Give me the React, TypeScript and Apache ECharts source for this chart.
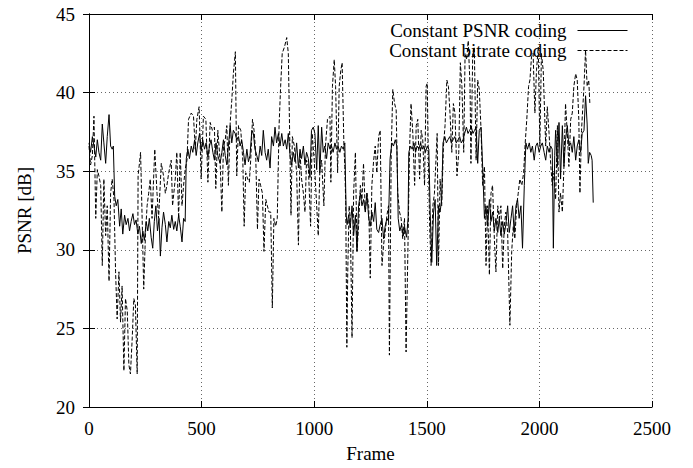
import React, { useEffect, useRef } from "react";
import * as echarts from "echarts";

const seriesNames = ["Constant PSNR coding", "Constant bitrate coding"];

const psnrFrames = [
  0, 7, 15, 22, 30, 37, 44, 52, 59, 66, 74, 81, 89, 96, 103, 108, 114, 121, 128, 136,
  143, 150, 158, 165, 173, 180, 187, 195, 202, 209, 217, 224, 232, 239, 246, 254, 261, 268, 276, 283,
  290, 297, 304, 311, 317, 324, 331, 339, 346, 354, 361, 368, 376, 383, 390, 398, 405, 413, 420, 427,
  432, 439, 446, 454, 461, 469, 476, 483, 491, 498, 505, 513, 520, 528, 535, 542, 550, 557, 564, 572,
  582, 590, 597, 605, 612, 619, 627, 634, 641, 649, 656, 664, 671, 678, 686, 693, 701, 708, 715, 723,
  730, 737, 745, 752, 760, 767, 774, 782, 789, 796, 804, 811, 819, 826, 833, 841, 848, 856, 863, 871,
  878, 885, 893, 900, 907, 915, 922, 930, 937, 944, 952, 959, 966, 974, 981, 988, 996, 1003, 1011, 1018,
  1025, 1033, 1040, 1047, 1055, 1062, 1070, 1077, 1084, 1092, 1099, 1106, 1114, 1121, 1129, 1136, 1142, 1146, 1153, 1160,
  1168, 1175, 1183, 1190, 1197, 1205, 1212, 1219, 1227, 1234, 1242, 1249, 1256, 1264, 1271, 1278, 1286, 1293, 1301, 1308,
  1315, 1323, 1330, 1337, 1345, 1352, 1360, 1367, 1373, 1380, 1388, 1395, 1402, 1410, 1417, 1420, 1428, 1435, 1443, 1450,
  1457, 1465, 1472, 1479, 1487, 1494, 1502, 1509, 1515, 1522, 1530, 1537, 1544, 1552, 1559, 1566, 1572, 1580, 1587, 1594,
  1602, 1609, 1617, 1624, 1631, 1639, 1646, 1653, 1661, 1668, 1676, 1683, 1690, 1698, 1705, 1712, 1719, 1726, 1733, 1741,
  1748, 1756, 1763, 1770, 1778, 1785, 1792, 1800, 1807, 1815, 1822, 1829, 1837, 1844, 1851, 1859, 1866, 1874, 1881, 1888,
  1896, 1903, 1910, 1918, 1925, 1933, 1940, 1947, 1955, 1962, 1969, 1977, 1984, 1991, 1999, 2006, 2013, 2021, 2028, 2035,
  2043, 2050, 2057, 2062, 2068, 2072, 2080, 2087, 2094, 2102, 2109, 2116, 2124, 2131, 2139, 2146, 2153, 2161, 2168, 2175,
  2183, 2190, 2198, 2205, 2212, 2217, 2223, 2230, 2234, 2239,
];
const psnrValues = [
  36.8, 36.2, 37.2, 36.6, 35.9, 37.0, 36.2, 35.7, 38.0, 36.8, 35.5, 37.2, 38.6, 36.6, 36.4, 36.6, 33.4, 32.8, 33.2, 31.5,
  32.6, 31.0, 32.2, 31.6, 32.0, 31.2, 31.8, 32.3, 31.6, 31.9, 31.0, 31.5, 30.4, 31.2, 30.6, 31.8, 31.2, 32.0, 30.8, 30.1,
  31.8, 32.8, 31.2, 32.0, 29.6, 31.4, 32.4, 31.6, 30.5, 31.8, 31.4, 32.2, 31.3, 31.8, 31.2, 32.2, 31.5, 30.5, 32.0, 31.8,
  35.8, 36.4, 35.8, 36.6, 36.2, 37.0, 36.0, 36.8, 37.4, 36.3, 37.0, 36.4, 36.8, 35.9, 36.6, 37.0, 36.2, 35.7, 36.8, 36.0,
  35.5, 36.2, 37.0, 36.0, 35.4, 36.6, 37.9, 36.8, 37.6, 37.4, 37.0, 37.2, 36.6, 37.0, 36.2, 35.4, 36.4, 35.6, 36.0, 37.6,
  37.4, 36.4, 36.0, 35.6, 36.6, 36.0, 37.6, 36.2, 35.7, 36.4, 35.2, 37.2, 36.6, 37.8, 36.8, 37.4, 36.6, 37.4, 36.6, 37.0,
  36.4, 37.4, 36.0, 35.4, 36.2, 35.6, 36.8, 35.2, 36.4, 35.8, 36.6, 35.4, 36.2, 35.8, 34.6, 37.6, 37.8, 37.4, 35.1, 37.9,
  34.9, 37.8, 36.2, 36.6, 35.8, 36.8, 36.4, 36.6, 36.2, 36.8, 36.4, 36.6, 36.2, 36.6, 36.4, 36.8, 32.2, 31.6, 32.2, 31.4,
  32.8, 30.9, 32.2, 29.9, 32.8, 33.6, 32.8, 33.2, 32.4, 33.6, 32.0, 31.5, 32.4, 31.8, 33.0, 31.3, 31.1, 31.6, 32.0, 30.7,
  31.5, 32.0, 31.8, 35.8, 36.8, 36.6, 37.0, 36.6, 32.0, 31.2, 31.6, 30.9, 31.4, 30.8, 32.0, 36.2, 36.6, 36.4, 36.8, 36.2,
  36.6, 36.4, 36.8, 36.4, 36.6, 36.2, 36.6, 36.4, 32.4, 29.2, 32.4, 33.2, 29.0, 32.8, 32.4, 33.2, 36.8, 37.2, 36.8, 37.0,
  37.2, 36.8, 37.0, 37.2, 36.8, 37.0, 37.2, 36.8, 37.0, 37.4, 37.8, 37.4, 37.6, 37.8, 37.4, 37.6, 37.8, 35.5, 37.6, 37.8,
  35.3, 32.0, 32.8, 31.5, 33.2, 31.8, 32.4, 31.2, 32.0, 31.1, 32.0, 30.9, 31.8, 31.0, 31.6, 32.8, 31.1, 32.0, 32.8, 31.1,
  32.8, 33.2, 32.0, 32.8, 30.1, 34.1, 36.8, 36.4, 36.8, 36.2, 36.6, 35.7, 36.6, 36.8, 36.2, 36.6, 36.8, 36.2, 35.7, 36.6,
  36.2, 36.6, 36.4, 30.1, 36.0, 37.6, 35.3, 38.1, 34.5, 37.9, 35.3, 37.0, 37.9, 36.6, 36.8, 36.2, 37.2, 35.7, 36.6, 37.0,
  36.2, 37.4, 37.6, 39.8, 38.0, 35.5, 36.2, 36.0, 35.7, 33.0,
];

const bitrateFrames = [
  0, 7, 15, 22, 30, 37, 44, 52, 59, 66, 74, 81, 89, 96, 103, 111, 118, 125, 133, 140,
  147, 155, 162, 170, 177, 184, 192, 199, 206, 214, 218, 224, 229, 236, 243, 251, 258, 265, 272, 280,
  292, 302, 309, 321, 331, 339, 346, 354, 365, 371, 383, 390, 398, 405, 413, 420, 427, 435, 442, 454,
  464, 472, 479, 489, 498, 508, 519, 528, 538, 548, 557, 563, 572, 582, 590, 597, 605, 612, 619, 627,
  634, 641, 650, 656, 664, 674, 683, 689, 696, 705, 712, 718, 726, 733, 740, 748, 755, 762, 770, 777,
  785, 792, 799, 807, 814, 821, 829, 836, 844, 851, 858, 868, 878, 885, 893, 897, 903, 912, 922, 930,
  937, 944, 952, 959, 966, 974, 984, 991, 1000, 1011, 1018, 1025, 1033, 1043, 1050, 1059, 1070, 1074, 1081, 1089,
  1095, 1104, 1111, 1118, 1124, 1132, 1136, 1140, 1145, 1149, 1155, 1160, 1168, 1175, 1183, 1190, 1197, 1205, 1212, 1219,
  1227, 1234, 1242, 1249, 1256, 1264, 1271, 1278, 1286, 1293, 1301, 1308, 1315, 1323, 1330, 1334, 1342, 1349, 1357, 1364,
  1371, 1379, 1386, 1393, 1401, 1408, 1416, 1423, 1430, 1438, 1446, 1453, 1460, 1468, 1475, 1482, 1490, 1497, 1502, 1507,
  1513, 1519, 1527, 1534, 1546, 1552, 1559, 1566, 1574, 1581, 1589, 1596, 1603, 1611, 1618, 1625, 1634, 1642, 1649, 1656,
  1664, 1670, 1677, 1684, 1692, 1696, 1704, 1711, 1719, 1726, 1733, 1741, 1748, 1756, 1763, 1770, 1778, 1785, 1792, 1800,
  1807, 1815, 1822, 1829, 1837, 1844, 1851, 1859, 1869, 1877, 1884, 1891, 1899, 1906, 1913, 1922, 1930, 1937, 1944, 1952,
  1958, 1965, 1972, 1980, 1987, 1995, 2002, 2009, 2017, 2028, 2035, 2043, 2050, 2057, 2065, 2072, 2080, 2087, 2094, 2102,
  2109, 2116, 2124, 2131, 2139, 2146, 2153, 2161, 2168, 2175, 2180, 2187, 2198, 2205, 2212, 2219, 2224,
];
const bitrateValues = [
  36.6, 35.4, 36.0, 38.5, 32.0, 35.1, 34.7, 34.1, 29.0, 34.5, 30.9, 32.8, 28.0, 33.6, 34.5, 33.2, 28.6, 25.6, 28.6, 25.4,
  27.7, 22.3, 26.9, 26.1, 22.7, 22.1, 24.4, 26.9, 26.5, 22.1, 34.7, 35.5, 36.2, 32.0, 27.5, 31.1, 32.8, 33.6, 34.5, 32.0,
  36.4, 33.6, 32.0, 35.5, 34.7, 33.6, 34.1, 34.9, 35.7, 32.8, 34.5, 36.2, 32.0, 36.2, 32.8, 34.1, 35.1, 35.7, 38.3, 38.7,
  38.5, 36.4, 38.3, 39.1, 34.5, 38.5, 38.3, 34.3, 38.1, 37.6, 37.8, 33.9, 37.6, 35.7, 32.4, 36.6, 37.0, 37.9, 34.1, 38.1,
  39.5, 41.2, 42.6, 34.7, 37.9, 37.6, 35.7, 31.5, 34.9, 34.5, 34.3, 35.7, 38.3, 37.6, 36.2, 31.3, 34.5, 34.1, 33.6, 29.9,
  33.2, 32.8, 32.4, 32.4, 26.3, 32.0, 31.5, 32.0, 37.9, 40.4, 42.5, 42.9, 43.5, 42.5, 35.7, 32.2, 37.2, 36.6, 34.9, 30.3,
  36.2, 34.5, 33.6, 32.4, 35.7, 35.3, 31.5, 37.4, 35.7, 32.8, 30.9, 35.1, 35.7, 32.8, 36.6, 38.3, 38.5, 34.3, 40.4, 42.1,
  40.4, 34.9, 40.4, 41.4, 41.9, 36.6, 35.3, 33.0, 23.8, 28.6, 32.8, 32.0, 24.4, 33.6, 36.2, 29.9, 31.5, 34.1, 33.2, 35.5,
  32.4, 33.6, 32.8, 28.2, 34.1, 35.7, 36.6, 34.9, 37.2, 37.6, 29.0, 30.3, 31.1, 32.2, 32.8, 23.3, 36.2, 40.2, 39.3, 38.9,
  33.6, 32.4, 32.0, 30.7, 32.0, 23.5, 29.9, 36.2, 39.3, 37.4, 34.1, 37.9, 38.3, 34.5, 37.6, 37.0, 34.1, 40.4, 40.6, 35.7,
  31.3, 29.0, 32.8, 33.6, 37.4, 29.0, 34.5, 32.8, 36.6, 37.9, 40.8, 40.4, 38.7, 36.2, 39.3, 38.7, 34.7, 36.2, 41.9, 40.4,
  36.2, 42.5, 42.1, 43.3, 40.4, 35.5, 42.5, 42.9, 35.7, 40.8, 40.2, 37.6, 34.1, 35.3, 29.0, 32.8, 28.4, 33.6, 34.1, 30.7,
  28.6, 32.8, 32.0, 32.8, 28.8, 31.5, 32.4, 31.1, 25.2, 29.9, 31.5, 30.7, 32.8, 33.6, 34.5, 34.1, 34.9, 36.8, 38.3, 40.4,
  40.8, 42.3, 42.5, 38.7, 41.4, 42.9, 36.6, 42.5, 41.4, 36.6, 39.1, 37.4, 35.5, 34.1, 34.9, 33.2, 37.9, 32.4, 33.6, 32.4,
  35.3, 39.3, 37.4, 35.3, 38.3, 38.7, 40.4, 41.2, 40.8, 38.3, 33.6, 37.6, 40.4, 42.7, 40.4, 40.8, 39.3,
];

const FONT = "'Liberation Serif', 'DejaVu Serif', serif";

export default function App() {
  const ref = useRef<HTMLDivElement>(null);

  useEffect(() => {
    if (!ref.current) return;
    const chart = echarts.init(ref.current, null, { renderer: "svg" });

    const baseText = { fontFamily: FONT, fontSize: 19, color: "#000" };
    const axisLine = { show: true, lineStyle: { color: "#000", width: 1 } };
    const tick = { show: true, inside: true, length: 6, lineStyle: { color: "#000", width: 1 } };
    const gridLine = { show: true, lineStyle: { color: "#666", width: 1, type: [1, 3] } };
    const plain = (v: number) => String(v);

    chart.setOption({
      animation: false,
      backgroundColor: "#fff",
      grid: { left: 89, right: 41, top: 14, bottom: 58, containLabel: false },
      legend: {
        data: seriesNames,
        orient: "vertical",
        right: 65,
        top: 21,
        padding: 0,
        align: "right",
        itemWidth: 50,
        itemHeight: 14,
        itemGap: 1,
        itemStyle: { opacity: 0, color: "transparent", borderWidth: 0 },
        lineStyle: { width: 1, color: "#000" },
        textStyle: { ...baseText, lineHeight: 17, padding: [0, 6, 0, 0] },
      },
      xAxis: [
        {
          type: "value",
          min: 0,
          max: 2500,
          interval: 500,
          position: "bottom",
          axisLine,
          axisTick: tick,
          axisLabel: { ...baseText, margin: 12, formatter: plain },
          splitLine: gridLine,
          name: "Frame",
          nameLocation: "middle",
          nameGap: 37,
          nameTextStyle: baseText,
        },
        {
          type: "value",
          min: 0,
          max: 2500,
          interval: 500,
          position: "top",
          axisLine,
          axisTick: tick,
          axisLabel: { show: false },
          splitLine: { show: false },
        },
      ],
      yAxis: [
        {
          type: "value",
          min: 20,
          max: 45,
          interval: 5,
          position: "left",
          axisLine,
          axisTick: tick,
          axisLabel: { ...baseText, margin: 14, formatter: plain },
          splitLine: gridLine,
          name: "PSNR [dB]",
          nameLocation: "middle",
          nameGap: 55,
          nameTextStyle: baseText,
        },
        {
          type: "value",
          min: 20,
          max: 45,
          interval: 5,
          position: "right",
          axisLine,
          axisTick: tick,
          axisLabel: { show: false },
          splitLine: { show: false },
        },
      ],
      series: [
        {
          name: seriesNames[0],
          type: "line",
          xAxisIndex: 0,
          yAxisIndex: 0,
          symbol: "none",
          showSymbol: false,
          lineStyle: { color: "#000", width: 1, type: "solid" },
          itemStyle: { color: "#000" },
          data: psnrFrames.map((f, i) => [f, psnrValues[i]]),
        },
        {
          name: seriesNames[1],
          type: "line",
          xAxisIndex: 0,
          yAxisIndex: 0,
          symbol: "none",
          showSymbol: false,
          lineStyle: { color: "#000", width: 1, type: [4, 2] },
          itemStyle: { color: "#000" },
          data: bitrateFrames.map((f, i) => [f, bitrateValues[i]]),
        },
      ],
    });

    return () => chart.dispose();
  }, []);

  return <div ref={ref} style={{ width: 693, height: 468, position: "absolute", left: 0, top: 0 }} />;
}
